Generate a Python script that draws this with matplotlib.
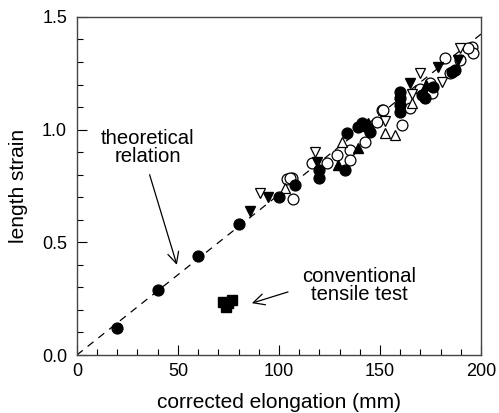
import numpy as np
import matplotlib.pyplot as plt
from matplotlib.ticker import MultipleLocator

plt.rcParams['font.family'] = ['Liberation Sans', 'DejaVu Sans']

# ---------- data ----------
fc_x = [20, 40, 60, 80, 100, 108, 120, 120, 132.7, 133.7, 139, 141, 143.5,
        160, 160, 160, 160, 171, 172.3, 185.6, 187, 145, 176]
fc_y = [0.12, 0.29, 0.44, 0.58, 0.70, 0.755, 0.82, 0.786, 0.82, 0.985, 1.01, 1.03, 1.01,
        1.167, 1.14, 1.11, 1.08, 1.154, 1.14, 1.256, 1.265, 0.99, 1.19]

oc_x = [107, 104, 106.4, 105.4, 116.5, 124, 128.7, 135, 135, 142.6, 148.5, 151, 151.5,
        165, 161, 175.7, 174.8, 182, 184.6, 195.5, 196, 193.6, 189.6, 170]
oc_y = [0.69, 0.78, 0.786, 0.786, 0.852, 0.852, 0.888, 0.91, 0.865, 0.945, 1.035, 1.087, 1.087,
        1.096, 1.02, 1.163, 1.207, 1.32, 1.25, 1.367, 1.34, 1.36, 1.31, 1.18]

ftd_x = [85.6, 94.5, 118.8, 165, 178.7, 188.6]
ftd_y = [0.64, 0.70, 0.857, 1.207, 1.278, 1.31]

otd_x = [90.6, 117.8, 152.5, 170, 180.7, 189.6, 166]
otd_y = [0.72, 0.90, 1.04, 1.25, 1.21, 1.36, 1.16]

ftu_x = [129, 139, 144, 173]
ftu_y = [0.845, 0.92, 1.03, 1.20]

otu_x = [103, 131, 152.5, 157.4, 166]
otu_y = [0.74, 0.945, 0.985, 0.976, 1.12]

sq_x = [72.3, 76.7, 74, 75]
sq_y = [0.235, 0.244, 0.213, 0.23]

line_x = [0, 200]
line_slope = 0.00712

# ---------- plot ----------
fig = plt.figure(figsize=(4.99, 4.13), dpi=100)
ax = fig.add_axes([0.154, 0.1404, 0.810, 0.8186])

ax.plot(line_x, [line_slope * v for v in line_x], color='black', lw=0.9,
        ls=(0, (6, 5)), zorder=1)

ms = 7.8
ax.plot(oc_x, oc_y, 'o', mfc='white', mec='black', mew=0.9, ms=ms, zorder=2)
ax.plot(otd_x, otd_y, 'v', mfc='white', mec='black', mew=0.9, ms=ms, zorder=2)
ax.plot(otu_x, otu_y, '^', mfc='white', mec='black', mew=0.9, ms=ms, zorder=2)
ax.plot(fc_x, fc_y, 'o', color='black', ms=ms, zorder=3)
ax.plot(ftd_x, ftd_y, 'v', color='black', ms=ms, zorder=3)
ax.plot(ftu_x, ftu_y, '^', color='black', ms=ms, zorder=3)
ax.plot(sq_x, sq_y, 's', color='black', ms=7, zorder=3)

arrow = dict(arrowstyle='->', color='black', lw=0.9, mutation_scale=20,
             shrinkA=0, shrinkB=0)
ax.text(35, 0.92, 'theoretical\nrelation', ha='center', va='center',
        fontsize=14.6, linespacing=0.95)
ax.annotate('', xy=(49.5, 0.40), xytext=(36, 0.80), arrowprops=arrow)
ax.text(139.6, 0.31, 'conventional\ntensile test', ha='center', va='center',
        fontsize=14.6, linespacing=0.95)
ax.annotate('', xy=(86.6, 0.23), xytext=(104.5, 0.28), arrowprops=arrow)

ax.set_xlim(0, 200)
ax.set_ylim(0, 1.5)
ax.xaxis.set_major_locator(MultipleLocator(50))
ax.xaxis.set_minor_locator(MultipleLocator(10))
ax.yaxis.set_major_locator(MultipleLocator(0.5))
ax.yaxis.set_minor_locator(MultipleLocator(0.1))
ax.yaxis.set_major_formatter(plt.FormatStrFormatter('%.1f'))
ax.tick_params(which='both', direction='in', top=False, right=False, labelsize=13)
ax.tick_params(axis='x', which='major', pad=6)
ax.tick_params(axis='y', which='major', pad=7)
ax.tick_params(which='major', length=7, width=0.8)
ax.tick_params(which='minor', length=4, width=0.8)
for s in ax.spines.values():
    s.set_linewidth(1.0)
    s.set_color('#444444')

ax.set_xlabel('corrected elongation (mm)', fontsize=15, labelpad=9)
ax.set_ylabel('length strain', fontsize=15, labelpad=10)

fig.savefig('out.png', dpi=100)
